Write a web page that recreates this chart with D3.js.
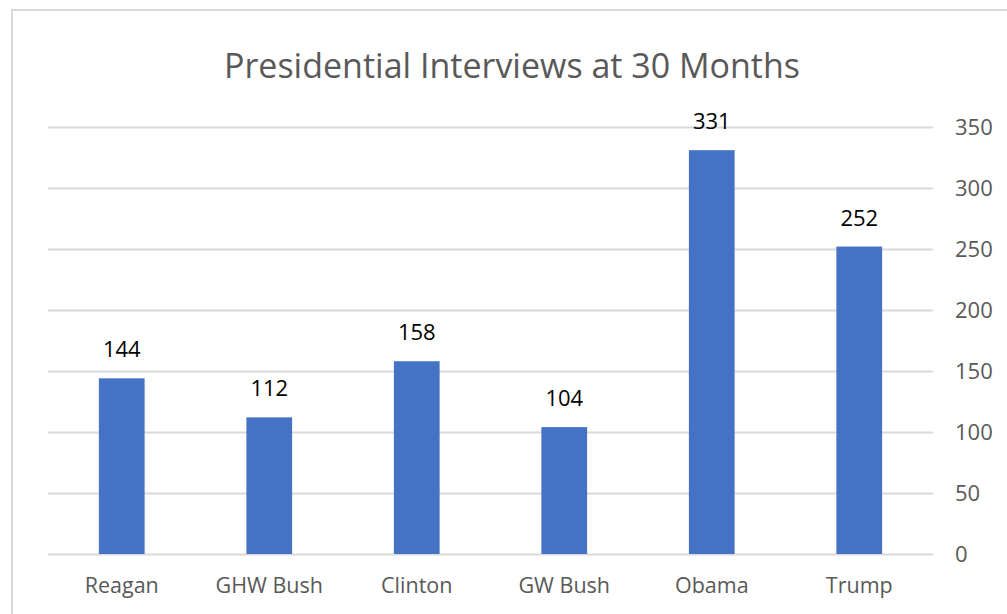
<!DOCTYPE html>
<html>
<head>
<meta charset="utf-8">
<script src="https://cdn.jsdelivr.net/npm/d3@7"></script>
<style>
  body { margin: 0; background: #fff; }
  text { font-family: "Open Sans", "Noto Sans", sans-serif; }
</style>
</head>
<body>
<div id="chart"></div>
<script>
const presidents = ['Reagan', 'GHW Bush', 'Clinton', 'GW Bush', 'Obama', 'Trump']
const interviews = [144, 112, 158, 104, 331, 252]
const yTicks = [0, 50, 100, 150, 200, 250, 300, 350]
const title = 'Presidential Interviews at 30 Months'

const width = 1007
const height = 614
const plot = { left: 48, right: 933, top: 127, bottom: 554 }

const svg = d3
  .select('#chart')
  .append('svg')
  .attr('width', width)
  .attr('height', height)

// chart frame
svg
  .append('rect')
  .attr('x', 12)
  .attr('y', 10)
  .attr('width', width + 10)
  .attr('height', height + 10)
  .attr('fill', '#fff')
  .attr('stroke', '#d9d9d9')
  .attr('stroke-width', 2)

const x = d3
  .scaleBand()
  .domain(presidents)
  .range([plot.left, plot.right])
  .paddingInner(0.69)
  .paddingOuter(0.345)

const y = d3
  .scaleLinear()
  .domain([0, 350])
  .range([plot.bottom, plot.top])

// gridlines
svg
  .append('g')
  .selectAll('line')
  .data(yTicks)
  .enter()
  .append('line')
  .attr('x1', plot.left)
  .attr('x2', plot.right)
  .attr('y1', d => Math.round(y(d)) + 0.5)
  .attr('y2', d => Math.round(y(d)) + 0.5)
  .attr('stroke', '#d9d9d9')
  .attr('stroke-width', 2)

// right axis
const yAxis = svg
  .append('g')
  .attr('transform', 'translate(' + plot.right + ',0)')
  .call(d3.axisRight(y).tickValues(yTicks).tickSize(0).tickPadding(22))
yAxis.select('.domain').remove()
yAxis
  .selectAll('text')
  .attr('fill', '#595959')
  .style('font-size', '22px')
  .attr('dy', '0.35em')

// bottom axis
const xAxis = svg
  .append('g')
  .attr('transform', 'translate(0,' + plot.bottom + ')')
  .call(d3.axisBottom(x).tickSize(0).tickPadding(24))
xAxis.select('.domain').remove()
xAxis
  .selectAll('text')
  .attr('fill', '#595959')
  .style('font-size', '21.5px')

// bars
svg
  .append('g')
  .selectAll('rect')
  .data(interviews)
  .enter()
  .append('rect')
  .attr('x', (d, i) => x(presidents[i]))
  .attr('y', d => y(d))
  .attr('width', x.bandwidth())
  .attr('height', d => y(0) - y(d))
  .attr('fill', '#4472c4')

// data labels
svg
  .append('g')
  .selectAll('text')
  .data(interviews)
  .enter()
  .append('text')
  .attr('x', (d, i) => x(presidents[i]) + x.bandwidth() / 2)
  .attr('y', d => y(d) - 21)
  .attr('text-anchor', 'middle')
  .attr('fill', '#000')
  .style('font-size', '22px')
  .text(d => d)

// title
svg
  .append('text')
  .attr('x', 512)
  .attr('y', 78)
  .attr('text-anchor', 'middle')
  .attr('fill', '#595959')
  .style('font-size', '34px')
  .text(title)
</script>
</body>
</html>
